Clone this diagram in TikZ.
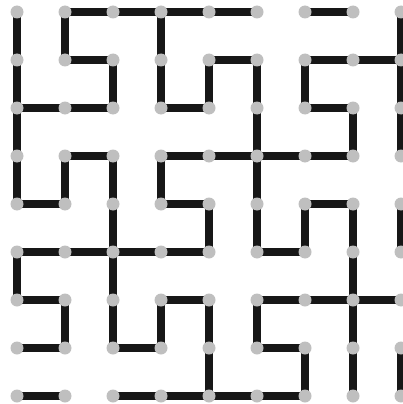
\documentclass[tikz,border=0pt]{standalone}
\usetikzlibrary{backgrounds}
\definecolor{dotgray}{HTML}{BFBFBF}
\definecolor{linkblack}{HTML}{171717}
\tikzset{
  dot/.style={circle,fill=dotgray,draw=none,minimum size=13pt,inner sep=0pt},
  link/.style={draw=linkblack,line width=8pt,line cap=butt}
}
\begin{document}
\begin{tikzpicture}[x=1pt,y=-1pt]
\useasboundingbox (0,0) rectangle (402,404);
\foreach \c in {0,...,8}{
  \foreach \r in {0,...,8}{
    \node[dot] (d-\c-\r) at ({17+48*\c},{12+48*\r}) {};
  }
}
\begin{scope}[on background layer]
% horizontal links: column-row of left end
\foreach \c/\r in {1/0,2/0,3/0,4/0,6/0,
                   1/1,4/1,6/1,7/1,
                   0/2,1/2,3/2,6/2,
                   1/3,3/3,4/3,5/3,6/3,
                   0/4,3/4,6/4,
                   0/5,1/5,2/5,3/5,5/5,
                   0/6,3/6,5/6,6/6,7/6,
                   0/7,2/7,5/7,
                   0/8,2/8,3/8,4/8,5/8}{
  \pgfmathtruncatemacro{\cn}{\c+1}
  \draw[link] (d-\c-\r.center) -- (d-\cn-\r.center);
}
% vertical links: column-row of upper end
\foreach \c/\r in {0/0,1/0,3/0,8/0,
                   0/1,2/1,3/1,4/1,5/1,6/1,8/1,
                   0/2,5/2,7/2,8/2,
                   0/3,1/3,2/3,3/3,5/3,
                   2/4,4/4,5/4,6/4,7/4,8/4,
                   0/5,2/5,7/5,
                   1/6,2/6,3/6,4/6,5/6,7/6,
                   4/7,6/7,7/7,8/7}{
  \pgfmathtruncatemacro{\rn}{\r+1}
  \draw[link] (d-\c-\r.center) -- (d-\c-\rn.center);
}
\end{scope}
\end{tikzpicture}
\end{document}
